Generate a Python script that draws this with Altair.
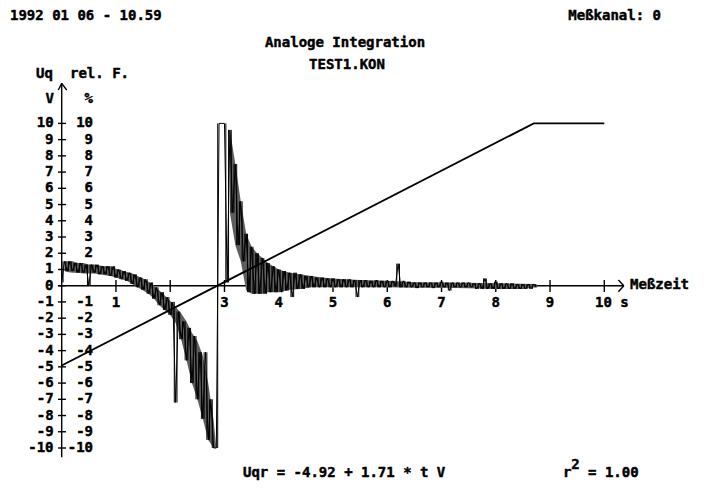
import altair as alt
import pandas as pd

# ---------------- data ----------------
# measured signal, one sample every 0.05 s starting at t = 0
trace_step = 0.05
trace_u = [
    0.2, 1.5, 0.9, 1.5, 0.9, 1.4, 0.8, 1.4, 0.8, 1.3,
    0.0, 1.3, 0.8, 1.3, 0.7, 1.2, 0.7, 1.2, 0.6, 1.2,
    0.5, 1.0, 0.4, 0.9, 0.3, 0.8, 0.1, 0.7, -0.1, 0.5,
    -0.25, 0.4, -0.5, 0.2, -0.8, -0.1, -1.2, -0.4, -1.5, -0.7,
    -1.8, -1.0, -7.2, -1.6, -3.3, -2.2, -4.6, -2.6, -6.0, -3.1,
    -7.0, -4.1, -8.2, -4.1, -9.5, -7.0, -10.0, -10.0, 10.0, 10.0,
    10.0, 0.2, 9.6, 4.5, 7.5, 2.5, 5.2, 1.5, 3.2, -0.4,
    2.4, -0.5, 2.0, -0.5, 1.7, -0.5, 1.4, -0.4, 1.2, -0.4,
    1.0, -0.4, 0.9, -0.3, 0.8, -0.7, 0.8, -0.2, 0.7, -0.2,
    0.6, -0.1, 0.6, -0.1, 0.5, -0.1, 0.5, -0.1, 0.45, -0.1,
    0.45, -0.1, 0.4, -0.1, 0.4, -0.1, 0.4, -0.1, 0.35, -0.7,
    0.35, -0.1, 0.35, -0.1, 0.3, -0.1, 0.35, -0.1, 0.3, -0.1,
    0.3, -0.1, 0.3, -0.05, 1.36, -0.1, 0.3, -0.1, 0.25, -0.1,
    0.2, -0.15, 0.2, -0.1, 0.2, -0.1, 0.2, -0.15, 0.2, -0.1,
    0.25, -0.1, 0.2, -0.3, 0.2, -0.1, 0.2, -0.1, 0.2, -0.1,
    0.2, -0.1, 0.15, -0.2, 0.15, -0.2, 0.45, -0.2, 0.15, -0.2,
    0.25, -0.2, 0.15, -0.2, 0.15, -0.2, 0.15, -0.2, 0.1, -0.2,
    0.1, -0.2, 0.1, -0.2, 0.1, -0.1,
]
trace_t = [round(i * trace_step, 2) for i in range(len(trace_u))]

# envelope of the dense oscillation (lower / upper edge), before and after the jump
env_t = [0.05, 0.1, 0.2, 0.3, 0.4, 0.5, 0.6, 0.7, 0.8, 0.9,
         1.0, 1.1, 1.2, 1.3, 1.4, 1.5, 1.6, 1.7, 1.8, 1.9,
         2.0, 2.1, 2.2, 2.3, 2.4, 2.5, 2.6, 2.7, 2.8, 2.85]
env_lo = [0.9, 0.85, 0.8, 0.8, 0.75, 0.75, 0.75, 0.7, 0.65, 0.6,
          0.5, 0.4, 0.3, 0.1, -0.1, -0.3, -0.5, -0.8, -1.2, -1.5,
          -1.8, -2.3, -3.3, -4.6, -6.0, -7.0, -8.2, -9.5, -10.0, -10.0]
env_hi = [1.5, 1.5, 1.5, 1.4, 1.4, 1.3, 1.3, 1.25, 1.2, 1.2,
          1.05, 0.95, 0.85, 0.75, 0.6, 0.45, 0.25, 0.0, -0.3, -0.6,
          -0.95, -1.3, -1.7, -2.2, -2.9, -3.4, -4.3, -6.0, -8.3, -10.0]
env2_t = [3.1, 3.2, 3.3, 3.4, 3.5, 3.6, 3.7, 3.8, 3.9, 4.0,
          4.2, 4.4, 4.6, 4.8, 5.0, 5.5, 6.0, 6.5, 7.0, 7.5, 8.0, 8.5, 8.75]
env2_lo = [4.5, 2.5, 1.5, -0.3, -0.5, -0.5, -0.5, -0.4, -0.4, -0.4,
           -0.25, -0.2, -0.1, -0.1, -0.1, -0.1, -0.1, -0.12, -0.12, -0.15, -0.2, -0.2, -0.1]
env2_hi = [9.6, 7.5, 5.2, 3.2, 2.4, 2.0, 1.7, 1.4, 1.2, 1.0,
           0.8, 0.7, 0.6, 0.5, 0.45, 0.35, 0.3, 0.22, 0.2, 0.18, 0.15, 0.12, 0.1]

# regression line Uqr (clipped at 10 V)
fit_t = [0.0, 8.7, 10.0]
fit_u = [-4.92, 10.0, 10.0]

y_tick_values = list(range(-10, 11))
y_right_values = [10, 9, 8, 7, 6, 5, 4, 3, 2, -1, -2, -3, -4, -5, -6, -7, -8, -9, -10]
x_tick_values = [1, 2, 3, 4, 5, 6, 7, 8, 9, 10]
x_label_values = [1, 3, 4, 5, 6, 7, 8, 9]

header_left = "1992 01 06 - 10.59"
header_right = "Meßkanal: 0"
title_1 = "Analoge Integration"
title_2 = "TEST1.KON"
y_head_1 = "Uq"
y_head_2 = "rel. F."
y_unit_left = "V"
y_unit_right = "%"
x_name = "Meßzeit"
x_last = "10 s"
formula = "Uqr = -4.92 + 1.71 * t V"
r2_r = "r"
r2_sup = "2"
r2_val = "= 1.00"

# ---------------- chart ----------------
W, H = 691, 473
PX_PER_S = 54.26
PX_PER_V = 16.23
x0 = -53.7 / PX_PER_S
y1 = 277.7 / PX_PER_V
XS = alt.Scale(domain=[x0, x0 + W / PX_PER_S], nice=False, zero=False)
YS = alt.Scale(domain=[y1 - H / PX_PER_V, y1], nice=False, zero=False)

FONT = dict(font="DejaVu Sans Mono", fontWeight="bold", fontSize=14, color="black",
            stroke="black", strokeWidth=0.45)
BAND = "#5e5e5e"


def X(f="x"):
    return alt.X(f"{f}:Q", scale=XS, axis=None)


def Y(f="y"):
    return alt.Y(f"{f}:Q", scale=YS, axis=None)


band1 = alt.Chart(pd.DataFrame({"x": env_t, "y": env_lo, "y2": env_hi})).mark_area(
    color=BAND
).encode(x=X(), y=Y(), y2="y2:Q")
band2 = alt.Chart(pd.DataFrame({"x": env2_t, "y": env2_lo, "y2": env2_hi})).mark_area(
    color=BAND
).encode(x=X(), y=Y(), y2="y2:Q")

tr = pd.DataFrame({"x": trace_t, "y": trace_u})
trace = alt.Chart(tr).mark_line(color="black", strokeWidth=1).encode(x=X(), y=Y())

# vertical strokes between successive samples (the fast oscillation)
seg = pd.DataFrame({
    "x": [(a + b) / 2 for a, b in zip(trace_t[:-1], trace_t[1:])],
    "y": trace_u[:-1],
    "y2": trace_u[1:],
})
strokes = alt.Chart(seg).mark_rule(color="black", strokeWidth=1).encode(
    x=X(), y=Y(), y2="y2:Q"
)

fit = alt.Chart(pd.DataFrame({"x": fit_t, "y": fit_u})).mark_line(
    color="black", strokeWidth=1.8
).encode(x=X(), y=Y())

# axes lines and arrows
axis_segments = pd.DataFrame({
    "x": [0.0, -0.07, -0.063, 0.0, 10.26, 10.36],
    "x2": [0.0, 10.36, 0.0, 0.092, 10.36, 10.26],
    "y": [-10.57, 0.0, 12.06, 12.47, 0.35, 0.0],
    "y2": [12.47, 0.0, 12.47, 12.06, 0.0, -0.37],
})
axes = alt.Chart(axis_segments).mark_rule(color="black", strokeWidth=1.4).encode(
    x=X(), x2="x2:Q", y=Y(), y2="y2:Q"
)

yt = pd.DataFrame({"y": y_tick_values})
yt["x"] = -0.068
yt["x2"] = 0.08
yt["lx"] = -0.15
yt["t"] = yt["y"].astype(str)
yticks = alt.Chart(yt).mark_rule(color="black", strokeWidth=1.4).encode(
    x=X(), x2="x2:Q", y=Y()
)
xt = pd.DataFrame({"x": x_tick_values})
xt["y"] = 0.35
xt["y2"] = -0.39
xticks = alt.Chart(xt).mark_rule(color="black", strokeWidth=1.4).encode(
    x=X(), y=Y(), y2="y2:Q"
)

ylab_left = alt.Chart(yt).mark_text(align="right", baseline="middle", **FONT).encode(
    x=X("lx"), y=Y(), text="t:N"
)
yr = pd.DataFrame({"y": y_right_values})
yr["lx"] = 0.577
yr["t"] = yr["y"].astype(str)
ylab_right = alt.Chart(yr).mark_text(align="right", baseline="middle", **FONT).encode(
    x=X("lx"), y=Y(), text="t:N"
)
xl = pd.DataFrame({"x": x_label_values})
xl["ly"] = -1.07
xl["t"] = xl["x"].astype(str)
xlab = alt.Chart(xl).mark_text(align="center", baseline="middle", **FONT).encode(
    x=X(), y=Y("ly"), text="t:N"
)

notes = pd.DataFrame([
    {"x": -0.953, "y": 16.60, "t": header_left, "a": "left"},
    {"x": 11.045, "y": 16.60, "t": header_right, "a": "right"},
    {"x": 5.221, "y": 14.95, "t": title_1, "a": "center"},
    {"x": 5.258, "y": 13.60, "t": title_2, "a": "center"},
    {"x": -0.473, "y": 13.04, "t": y_head_1, "a": "left"},
    {"x": 0.153, "y": 13.04, "t": y_head_2, "a": "left"},
    {"x": -0.142, "y": 11.50, "t": y_unit_left, "a": "right"},
    {"x": 0.577, "y": 11.50, "t": y_unit_right, "a": "right"},
    {"x": 10.474, "y": 0.04, "t": x_name, "a": "left"},
    {"x": 9.829, "y": -1.07, "t": x_last, "a": "left"},
    {"x": 3.341, "y": -11.55, "t": formula, "a": "left"},
    {"x": 9.24, "y": -11.55, "t": r2_r, "a": "left"},
    {"x": 9.39, "y": -11.05, "t": r2_sup, "a": "left"},
    {"x": 9.70, "y": -11.55, "t": r2_val, "a": "left"},
])
layers = []
for a in ["left", "right", "center"]:
    layers.append(
        alt.Chart(notes[notes["a"] == a].reset_index(drop=True)).mark_text(
            align=a, baseline="middle", **FONT
        ).encode(x=X(), y=Y(), text="t:N")
    )

chart = alt.layer(
    axes, yticks, xticks, band1, band2, strokes, trace, fit,
    ylab_left, ylab_right, xlab, *layers
).properties(
    width=W, height=H, padding=0, autosize=alt.AutoSizeParams(type="none"), background="white"
).configure_view(stroke=None)

chart.save("out.html", embed_options={"renderer": "svg", "actions": False})
